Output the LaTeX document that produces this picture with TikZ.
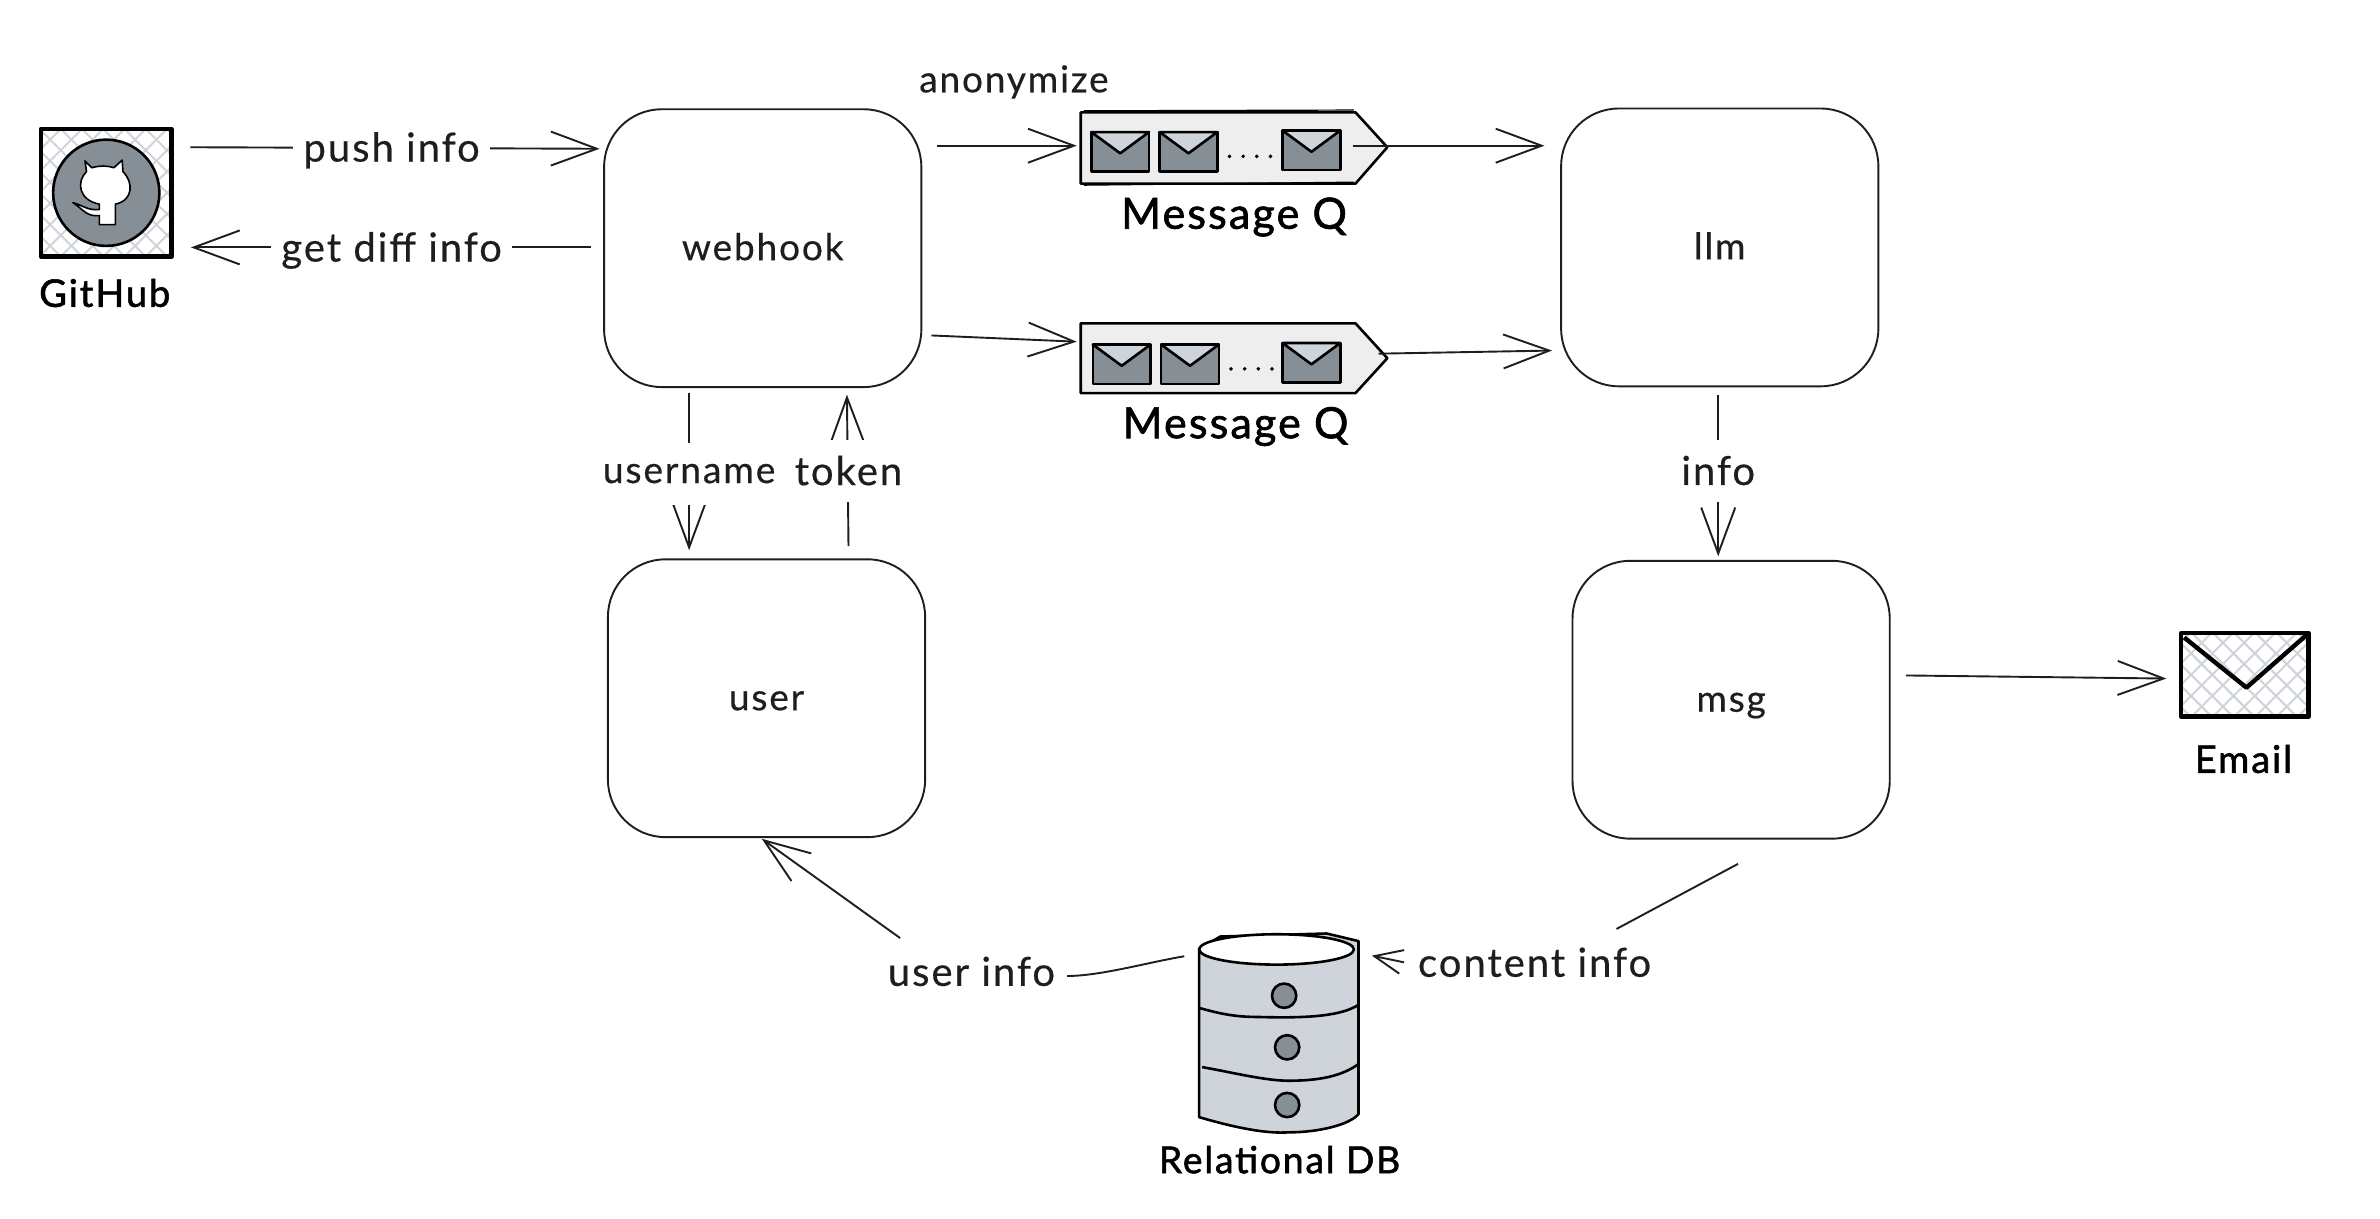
\documentclass[tikz,border=0pt]{standalone}
\usepackage{fontspec}
\setmainfont[LetterSpace=5]{Lato}
\newfontfamily\handfont[LetterSpace=5,FakeBold=0.4]{Lato}
\newfontfamily\capfont[LetterSpace=5,FakeBold=1.5]{Lato}
\usetikzlibrary{arrows.meta,calc}
\definecolor{inkc}{HTML}{1E1E1E}
\definecolor{grayc}{HTML}{868E96}
\definecolor{lightc}{HTML}{CED4DA}
\definecolor{qfill}{HTML}{EEEEEE}
\tikzset{
  x=0.7589pt,y=-0.7589pt,
  boxn/.style={draw=inkc,line width=0.95pt,rounded corners=28.8pt,minimum width=158.6pt,minimum height=138.9pt,inner sep=0pt,text height=16pt,text depth=4pt,font=\handfont\fontsize{18.5}{22}\selectfont,text=inkc},
  lbl/.style={fill=white,inner xsep=5pt,inner ysep=2pt,font=\handfont\fontsize{20}{24}\selectfont,text=inkc},
  lblv/.style={lbl,minimum height=31pt,font=\handfont\fontsize{18.6}{22}\selectfont},
  anontxt/.style={inner sep=0pt,font=\handfont\fontsize{18.5}{22}\selectfont,text=inkc},
  captxt/.style={inner sep=0pt,font=\capfont\fontsize{19}{22}\selectfont,text=black},
  qtxt/.style={inner sep=0pt,font=\capfont\fontsize{21.5}{25}\selectfont,text=black},
  capsmall/.style={inner sep=0pt,font=\capfont\fontsize{18.6}{22}\selectfont,text=black},
  conn/.style={draw=inkc,line width=0.95pt},
  conntip/.style={conn,shorten >=-2pt,-{Straight Barb[length=23pt,width=17pt,line width=0.95pt]}},
  shorttip/.style={conn,shorten >=-1.5pt,-{Straight Barb[length=14pt,width=12pt,line width=0.95pt]}},
  hatchline/.style={draw=lightc,line width=1pt},
  ico/.style={draw=black,line width=2.2pt,line join=round,inner sep=0pt},
  ghost/.style={inner sep=0pt},
  heavy/.style={draw=black,line width=1.3pt,line join=round},
  envl/.pic={
    \filldraw[heavy,fill=grayc] (0,0) rectangle (38,26);
    \filldraw[heavy,fill=lightc] (0,0) -- (19,14) -- (38,0) -- cycle;
  },
  qdots/.pic={
    \foreach \d in {0,9,18,27} \fill[black] (\d,0) circle (1.3);
  }
}
\begin{document}
\begin{tikzpicture}
\path[use as bounding box,fill=white] (0,0) rectangle (1568,802.5);

% GitHub icon
\begin{scope}
  \clip (27,85) rectangle (113,169);
  \foreach \k in {-100,-86,...,200} {
    \draw[hatchline] (\k,85) -- (\k+84,169);
    \draw[hatchline] (\k,169) -- (\k+84,85);
  }
\end{scope}
\node[ico,minimum width=65.3pt,minimum height=63.7pt] (github) at (70,127) {};
\filldraw[heavy,fill=grayc] (70,127) circle (35);
\filldraw[draw=black,line width=0.8pt,fill=white,line join=round]
  (56,106) -- (60.5,110.5) .. controls (66,109) and (70,109) .. (75,110.5) -- (80.5,105.5) -- (81,113)
  .. controls (88,120) and (88,132) .. (76,134.5) -- (76,148) -- (65.5,148) -- (65.5,142)
  .. controls (57,143) and (55,138) .. (48,133.5) .. controls (54,135) and (58,139) .. (65.5,138)
  -- (65.5,134.5) .. controls (52,132) and (50,120) .. (57,113) -- cycle;
\node[captxt] (ghlabel) at (69,193) {GitHub};

% Email icon
\begin{scope}
  \clip (1437,417) rectangle (1521,472);
  \foreach \k in {1360,1374,...,1560} {
    \draw[hatchline] (\k,417) -- (\k+55,472);
    \draw[hatchline] (\k,472) -- (\k+55,417);
  }
\end{scope}
\node[ico,minimum width=63.7pt,minimum height=41.7pt] (email) at (1479,444.5) {};
\draw[draw=black,line width=2.2pt,line join=round] (1439,420) -- (1480,453) -- (1520,418);
\node[captxt] (emlabel) at (1478,500) {Email};

% Boxes
\node[boxn] (webhook) at (502.5,163.5) {webhook};
\node[boxn] (llm) at (1133,163) {llm};
\node[boxn] (user) at (505,460) {user};
\node[boxn] (msg) at (1140.5,461) {msg};

% Queue 1
\node[ghost,minimum width=153.3pt,minimum height=35.7pt] (q1) at (813,97.5) {};
\filldraw[heavy,fill=qfill] (712,74) -- (893,74) -- (914,97) -- (893,121) -- (712,121) -- cycle;
\draw[draw=black,line width=0.6pt] (714,73) -- (892,72.5);
\draw[draw=black,line width=0.6pt] (714,122) -- (892,120);
\pic at (719,87) {envl};
\pic at (764,87) {envl};
\pic at (845,86) {envl};
\pic at (810,103) {qdots};
\node[qtxt] (q1label) at (813,143) {Message Q};

% Queue 2
\node[ghost,minimum width=153.3pt,minimum height=35pt] (q2) at (813,236) {};
\filldraw[heavy,fill=qfill] (712,213) -- (893,213) -- (914,236) -- (893,259) -- (712,259) -- cycle;
\pic at (720,227) {envl};
\pic at (765,227) {envl};
\pic at (845,226) {envl};
\pic at (811,243) {qdots};
\node[qtxt] (q2label) at (814,281) {Message Q};

% DB
\node[ghost,minimum width=79.7pt,minimum height=98.7pt] (db) at (843,681) {};
\begin{scope}[shift={(4,3)}]
\filldraw[heavy,fill=lightc] (786,622) -- (786,733) .. controls (810,740) and (830,744) .. (845,743)
  .. controls (865,743) and (885,738) .. (891,731) -- (891,617) -- (870,612) -- (800,614) -- cycle;
\filldraw[heavy,fill=white] (837,622.5) ellipse (51 and 10);
\draw[heavy] (786,661) .. controls (800,665) and (810,667) .. (825,667) .. controls (860,668) and (880,666) .. (891,659);
\draw[heavy] (788,700) .. controls (810,704) and (830,709) .. (845,709) .. controls (865,709) and (880,706) .. (891,698);
\filldraw[heavy,fill=grayc] (842,653) circle (8);
\filldraw[heavy,fill=grayc] (844,687) circle (8);
\filldraw[heavy,fill=grayc] (844,725) circle (8);
\end{scope}
\node[capsmall] (dblabel) at (843,764) {Relational DB};

% Free label
\node[anontxt] (anon) at (668,54) {anonymize};

% Straight connectors
\draw[conntip] ($(github.east)+(11,-30)$) -- ($(webhook.west)+(-5,-65.5)$);
\draw[conntip] ($(webhook.west)+(-8,-0.5)$) -- ($(github.east)+(14,36)$);
\draw[conntip] ($(webhook.east)+(10,-67.5)$) -- ($(q1.west)+(-5,-1.5)$);
\draw[conntip] ($(webhook.east)+(6,57.5)$) -- ($(q2.west)+(-5,-11)$);
\draw[conntip] ($(q1.east)+(-23,-1.5)$) -- ($(llm.west)+(-13,-67)$);
\draw[conntip] ($(q2.east)+(-6,-3)$) -- ($(llm.west)+(-8,68)$);
\draw[conntip] ($(webhook.south)+(-48.5,3)$) -- ($(user.north)+(-51,-8)$);
\draw[conntip] ($(user.north)+(54,-8)$) -- ($(webhook.south)+(55.5,7)$);
\draw[conntip] ($(llm.south)+(-1,5)$) -- ($(msg.north)+(-8.5,-5)$);
\draw[conntip] ($(msg.east)+(10,-16)$) -- ($(email.west)+(-11,2.5)$);

% Edge labels
\node[lbl] (pushl) at (258,99) {push info};
\node[lbl] (diffl) at (258,165) {get diff info};
\node[lblv] (namel) at (454,312) {username};
\node[lblv,font=\handfont\fontsize{20}{24}\selectfont] (tokenl) at (559,310) {token};
\node[lblv,font=\handfont\fontsize{20}{24}\selectfont] (infol) at (1132,310) {info};

% Labelled connectors through the bottom
\node[lbl] (contentl) at (1011,634) {content info};
\node[lbl] (userl) at (640,640) {user info};
\draw[conn] ($(msg.south)+(4.5,16)$) -- ($(contentl)+(54,-22)$);
\draw[shorttip] ($(contentl)+(-86,0)$) -- ($(db.east)+(10,-51)$);
\draw[conn] ($(db.west)+(-10,-51)$) .. controls ($(db.west)+(-34,-47)$) and ($(userl)+(85,3)$) .. ($(userl)+(63,3)$);
\draw[conntip] ($(userl)+(-47,-22)$) -- ($(user.south)+(-1,2)$);
\end{tikzpicture}
\end{document}
